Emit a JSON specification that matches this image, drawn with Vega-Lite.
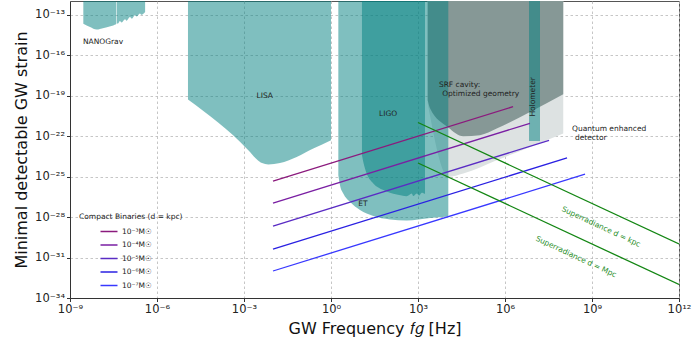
{
  "$schema": "https://vega.github.io/schema/vega-lite/v6.json",
  "width": 609,
  "height": 297,
  "autosize": {"type": "none"},
  "padding": {"left": 70, "top": 1, "right": 13, "bottom": 49},
  "config": {
    "font": "DejaVu Sans",
    "view": {"stroke": "#555555", "strokeWidth": 1},
    "axis": {
      "zindex": 1,
      "grid": true,
      "gridColor": "#b8b8b8",
      "gridDash": [2.5, 2.5],
      "gridWidth": 0.8,
      "domainColor": "#333333",
      "tickColor": "#333333",
      "tickSize": 3.5,
      "labelFontSize": 11.5,
      "labelColor": "#222222",
      "labelPadding": 2,
      "titleFontSize": 16,
      "titleFontWeight": "normal",
      "titleColor": "#111111"
    },
    "legend": {"titleFont": "DejaVu Sans", "labelFont": "DejaVu Sans"}
  },
  "datasets": {
    "regions": [
      {"r": "NANOGrav1", "f": 2.88e-9, "h": 2.09e-14},
      {"r": "NANOGrav1", "f": 4.9e-9, "h": 1.17e-14},
      {"r": "NANOGrav1", "f": 8.3e-9, "h": 7.6e-15},
      {"r": "NANOGrav1", "f": 1.07e-8, "h": 8.5e-15},
      {"r": "NANOGrav1", "f": 1.74e-8, "h": 1.1e-14},
      {"r": "NANOGrav1", "f": 3.09e-8, "h": 1.55e-14},
      {"r": "NANOGrav1", "f": 3.89e-8, "h": 1.86e-14},
      {"r": "NANOGrav2", "f": 4.07e-8, "h": 2.09e-14},
      {"r": "NANOGrav2", "f": 4.68e-8, "h": 2.29e-14},
      {"r": "NANOGrav2", "f": 5.25e-8, "h": 3.24e-14},
      {"r": "NANOGrav2", "f": 6.03e-8, "h": 2.57e-14},
      {"r": "NANOGrav2", "f": 7.94e-8, "h": 4.37e-14},
      {"r": "NANOGrav2", "f": 8.91e-8, "h": 3.47e-14},
      {"r": "NANOGrav2", "f": 1.17e-7, "h": 6.46e-14},
      {"r": "NANOGrav2", "f": 1.35e-7, "h": 4.9e-14},
      {"r": "NANOGrav2", "f": 1.74e-7, "h": 8.9e-14},
      {"r": "NANOGrav2", "f": 2.0e-7, "h": 7.24e-14},
      {"r": "NANOGrav2", "f": 2.57e-7, "h": 1.2e-13},
      {"r": "NANOGrav2", "f": 2.95e-7, "h": 9.55e-14},
      {"r": "NANOGrav2", "f": 3.89e-7, "h": 1.51e-13},
      {"r": "LISA", "f": 1.17e-5, "h": 5.0e-20},
      {"r": "LISA", "f": 1.41e-3, "h": 8.9e-24},
      {"r": "LISA", "f": 2.74e-3, "h": 1.9e-24},
      {"r": "LISA", "f": 4.18e-3, "h": 9.8e-25},
      {"r": "LISA", "f": 6.89e-3, "h": 7.76e-25},
      {"r": "LISA", "f": 1.74e-2, "h": 1.0e-24},
      {"r": "LISA", "f": 6.56e-2, "h": 2.82e-24},
      {"r": "LISA", "f": 0.245, "h": 1.17e-23},
      {"r": "LISA", "f": 1.0, "h": 4.9e-23},
      {"r": "ET", "f": 1.79, "h": 1.26e-25},
      {"r": "ET", "f": 2.04, "h": 2.29e-26},
      {"r": "ET", "f": 2.65, "h": 5.5e-27},
      {"r": "ET", "f": 4.52, "h": 1.32e-27},
      {"r": "ET", "f": 10, "h": 3.24e-28},
      {"r": "ET", "f": 28.8, "h": 1.17e-28},
      {"r": "ET", "f": 108, "h": 6.5e-29},
      {"r": "ET", "f": 407, "h": 5.4e-29},
      {"r": "ET", "f": 2594, "h": 8.3e-29},
      {"r": "ET", "f": 11100, "h": 1.07e-28},
      {"r": "LIGO", "f": 11.7, "h": 3.8e-24},
      {"r": "LIGO", "f": 13.0, "h": 1.2e-24},
      {"r": "LIGO", "f": 17.0, "h": 1.66e-25},
      {"r": "LIGO", "f": 28.8, "h": 3.02e-26},
      {"r": "LIGO", "f": 63.5, "h": 9.8e-27},
      {"r": "LIGO", "f": 184.5, "h": 4.57e-27},
      {"r": "LIGO", "f": 407, "h": 3.47e-27},
      {"r": "LIGO", "f": 607, "h": 5.6e-27},
      {"r": "LIGO", "f": 689, "h": 3.55e-27},
      {"r": "LIGO", "f": 902, "h": 5.6e-27},
      {"r": "LIGO", "f": 1109, "h": 3.98e-27},
      {"r": "LIGO", "f": 1343, "h": 6.3e-27},
      {"r": "LIGO", "f": 1742, "h": 5.0e-27},
      {"r": "Holometer", "f": 6.73e6, "h": 4.27e-23},
      {"r": "Holometer", "f": 1.61e7, "h": 4.27e-23},
      {"r": "SRF", "f": 2158, "h": 4.37e-20},
      {"r": "SRF", "f": 2594, "h": 1.12e-20},
      {"r": "SRF", "f": 10800, "h": 4.47e-22},
      {"r": "SRF", "f": 36500, "h": 9.55e-23},
      {"r": "SRF", "f": 137000, "h": 1.15e-22},
      {"r": "SRF", "f": 518000, "h": 3.55e-22},
      {"r": "SRF", "f": 7.28e6, "h": 6.03e-21},
      {"r": "SRF", "f": 1.02e8, "h": 1.23e-19},
      {"r": "Quantum", "f": 2158, "h": 2.63e-20},
      {"r": "Quantum", "f": 11100, "h": 9.3e-26},
      {"r": "Quantum", "f": 36500, "h": 1.66e-25},
      {"r": "Quantum", "f": 518000, "h": 1.62e-24},
      {"r": "Quantum", "f": 7.28e6, "h": 1.55e-23},
      {"r": "Quantum", "f": 1.02e8, "h": 1.51e-22}
    ],
    "binaries": [
      {"m": "10⁻³M☉", "f": 0.01, "h": 4.47e-26},
      {"m": "10⁻³M☉", "f": 1.9e6, "h": 1.48e-20},
      {"m": "10⁻⁴M☉", "f": 0.01, "h": 1.07e-27},
      {"m": "10⁻⁴M☉", "f": 7.24e6, "h": 8.7e-22},
      {"m": "10⁻⁵M☉", "f": 0.01, "h": 2.14e-29},
      {"m": "10⁻⁵M☉", "f": 3.31e7, "h": 4.79e-23},
      {"m": "10⁻⁶M☉", "f": 0.01, "h": 4.17e-31},
      {"m": "10⁻⁶M☉", "f": 1.38e8, "h": 2.4e-24},
      {"m": "10⁻⁷M☉", "f": 0.01, "h": 1.0e-32},
      {"m": "10⁻⁷M☉", "f": 5.75e8, "h": 1.48e-25}
    ],
    "superradiance": [
      {"d": "kpc", "f": 1e3, "h": 1e-21},
      {"d": "kpc", "f": 1e12, "h": 1e-30},
      {"d": "Mpc", "f": 1e3, "h": 1e-24},
      {"d": "Mpc", "f": 1e12, "h": 1e-33}
    ]
  },
  "encoding": {
    "x": {
      "field": "f", "type": "quantitative",
      "scale": {"type": "log", "domain": [1e-9, 1e12], "nice": false},
      "axis": {
        "values": [1e-9, 1e-6, 1e-3, 1, 1e3, 1e6, 1e9, 1e12],
        "labelExpr": "'10' + replace(replace(replace(replace(replace(replace(replace(replace(replace(replace(replace('' + round(log(datum.value)/LN10), regexp('-','g'), '⁻'), regexp('0','g'), '⁰'), regexp('1','g'), '¹'), regexp('2','g'), '²'), regexp('3','g'), '³'), regexp('4','g'), '⁴'), regexp('5','g'), '⁵'), regexp('6','g'), '⁶'), regexp('7','g'), '⁷'), regexp('8','g'), '⁸'), regexp('9','g'), '⁹')",
        "title": "GW Frequency 𝑓𝑔 [Hz]",
        "titlePadding": 5,
        "labelFlush": false
      }
    },
    "y": {
      "field": "h", "type": "quantitative",
      "scale": {"type": "log", "domain": [1e-34, 1e-12], "nice": false},
      "stack": null,
      "axis": {
        "values": [1e-34, 1e-31, 1e-28, 1e-25, 1e-22, 1e-19, 1e-16, 1e-13],
        "labelExpr": "'10' + replace(replace(replace(replace(replace(replace(replace(replace(replace(replace(replace('' + round(log(datum.value)/LN10), regexp('-','g'), '⁻'), regexp('0','g'), '⁰'), regexp('1','g'), '¹'), regexp('2','g'), '²'), regexp('3','g'), '³'), regexp('4','g'), '⁴'), regexp('5','g'), '⁵'), regexp('6','g'), '⁶'), regexp('7','g'), '⁷'), regexp('8','g'), '⁸'), regexp('9','g'), '⁹')",
        "title": "Minimal detectable GW strain",
        "titlePadding": 5,
        "labelFlush": false
      }
    }
  },
  "layer": [
    {
      "data": {"name": "regions"},
      "transform": [{"filter": "datum.r == 'Quantum'"}],
      "mark": {"type": "area", "color": "#dde2e2", "clip": true, "interpolate": "monotone"},
      "encoding": {"y2": {"datum": 1e-12}}
    },
    {
      "data": {"name": "regions"},
      "transform": [{"filter": "datum.r == 'SRF'"}],
      "mark": {"type": "area", "color": "#869896", "clip": true, "interpolate": "monotone"},
      "encoding": {"y2": {"datum": 1e-12}}
    },
    {
      "data": {"name": "regions"},
      "transform": [{"filter": "datum.r != 'SRF' && datum.r != 'Quantum'"}],
      "mark": {"type": "area", "color": "#008080", "opacity": 0.5, "clip": true, "interpolate": "monotone"},
      "encoding": {"y2": {"datum": 1e-12}, "detail": {"field": "r"}}
    },
    {
      "data": {"name": "binaries"},
      "mark": {"type": "line", "strokeWidth": 1.3, "clip": true},
      "encoding": {
        "color": {
          "field": "m", "type": "nominal",
          "scale": {
            "domain": ["10⁻³M☉", "10⁻⁴M☉", "10⁻⁵M☉", "10⁻⁶M☉", "10⁻⁷M☉"],
            "range": ["#8b1a7d", "#7a1fa3", "#5a2cc4", "#2a20e2", "#3838ff"]
          },
          "legend": {
            "title": "Compact Binaries (d = kpc)",
            "orient": "none",
            "legendX": 9,
            "legendY": 212,
            "padding": 0,
            "titleFontSize": 7.5,
            "titleFontWeight": "normal",
            "titleColor": "#222222",
            "titlePadding": 5,
            "labelFontSize": 7.5,
            "labelColor": "#222222",
            "labelOffset": 7,
            "symbolType": "M-1.7,0L1.7,0",
            "symbolSize": 100,
            "symbolStrokeWidth": 1.5,
            "symbolOffset": 24,
            "rowPadding": 3.5
          }
        }
      }
    },
    {
      "data": {"name": "superradiance"},
      "mark": {"type": "line", "color": "#138613", "strokeWidth": 1.3, "clip": true},
      "encoding": {"detail": {"field": "d"}}
    },
    {
      "data": {"values": [
        {"t": "NANOGrav", "f": 1.38e-8, "h": 1.0e-15},
        {"t": "LISA", "f": 5.2e-3, "h": 1.0e-19},
        {"t": "LIGO", "f": 93, "h": 4.1e-21},
        {"t": "ET", "f": 12.6, "h": 8.9e-28}
      ]},
      "mark": {"type": "text", "fontSize": 7.5, "color": "#222222", "align": "center", "baseline": "middle"},
      "encoding": {"text": {"field": "t"}}
    },
    {
      "data": {"values": [
        {"t": "SRF cavity:", "f": 5250, "h": 5.9e-19},
        {"t": "Optimized geometry", "f": 6800, "h": 1.35e-19},
        {"t": "Quantum enhanced", "f": 2.04e8, "h": 3.16e-22},
        {"t": "detector", "f": 2.57e8, "h": 6.8e-23}
      ]},
      "mark": {"type": "text", "fontSize": 7.5, "color": "#222222", "align": "left", "baseline": "middle"},
      "encoding": {"text": {"field": "t"}}
    },
    {
      "data": {"values": [{"t": "Holometer", "f": 9.3e6, "h": 7.9e-20}]},
      "mark": {"type": "text", "fontSize": 7.5, "color": "#222222", "align": "center", "baseline": "middle", "angle": 270},
      "encoding": {"text": {"field": "t"}}
    },
    {
      "data": {"values": [
        {"t": "Superradiance d = kpc", "f": 2.04e9, "h": 1.78e-29},
        {"t": "Superradiance d = Mpc", "f": 2.8e8, "h": 1.07e-31}
      ]},
      "mark": {"type": "text", "fontSize": 7.5, "color": "#2a8f2a", "align": "center", "baseline": "middle", "angle": 25},
      "encoding": {"text": {"field": "t"}}
    }
  ]
}
